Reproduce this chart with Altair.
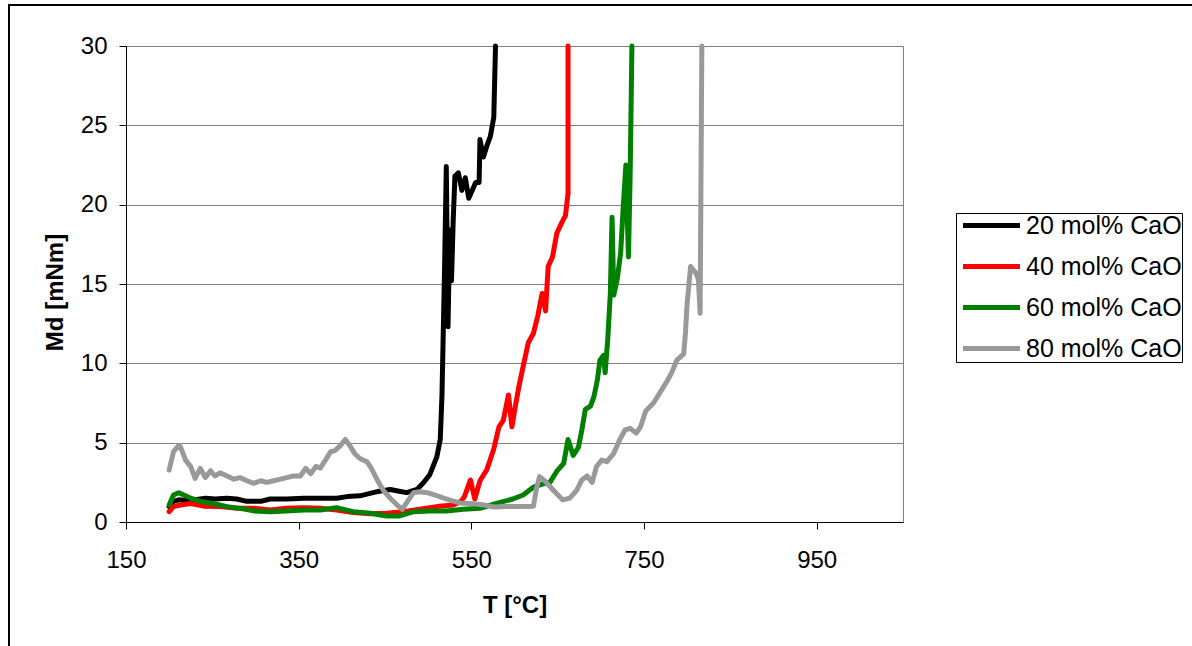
import altair as alt
import pandas as pd

series_names = ["20 mol% CaO", "40 mol% CaO", "60 mol% CaO", "80 mol% CaO"]
series_colors = ["#000000", "#ff0000", "#008000", "#999999"]

t20 = [200, 205, 211, 219, 230, 242, 253, 267, 278, 290, 306, 317, 336, 356, 375, 394, 406, 421,
       436, 445, 456, 465, 475, 487, 495, 502, 510, 514, 516, 519, 521, 523, 525, 527, 529, 531,
       535, 539, 543, 547, 551, 555, 559, 560, 564, 568, 572, 576, 578]
md20 = [0.97, 1.3, 1.4, 1.35, 1.4, 1.5, 1.45, 1.5, 1.45, 1.3, 1.3, 1.45, 1.45, 1.5, 1.5, 1.5, 1.6, 1.65,
        1.85, 1.95, 2.05, 1.95, 1.85, 2.05, 2.5, 3.0, 4.1, 5.2, 8.0, 16.0, 22.4, 12.3, 18.4, 15.2, 19.0, 21.8,
        22.0, 20.9, 21.7, 20.4, 20.9, 21.4, 21.4, 24.1, 23.0, 23.7, 24.3, 25.5, 30]

t40 = [200, 205, 213, 225, 240, 259, 279, 298, 317, 336, 356, 375, 394, 413, 433, 452, 471, 490,
       510, 529, 538, 542, 549, 554, 560, 568, 576, 582, 587, 593, 597, 601, 605, 610, 616, 622,
       627, 632, 636, 639, 644, 649, 655, 659, 662, 662]
md40 = [0.65, 0.97, 1.07, 1.17, 1.0, 0.97, 0.86, 0.86, 0.76, 0.86, 0.9, 0.86, 0.76, 0.6, 0.52, 0.55, 0.65, 0.8,
        0.97, 1.07, 1.3, 1.6, 2.65, 1.45, 2.6, 3.3, 4.6, 6.0, 6.4, 8.0, 6.0, 7.3, 8.5, 9.8, 11.3, 11.9,
        13.0, 14.4, 13.3, 16.1, 16.7, 18.2, 18.9, 19.3, 20.7, 30]

t60 = [200, 205, 211, 217, 225, 236, 252, 267, 282, 298, 317, 336, 356, 375, 394, 413, 433, 452,
       467, 483, 502, 521, 541, 560, 579, 598, 610, 622, 633, 641, 649, 657, 662, 668, 674, 678,
       682, 688, 692, 696, 699, 703, 705, 708, 711, 713, 715, 719, 723, 726, 729, 732, 734, 736]
md60 = [1.07, 1.7, 1.85, 1.7, 1.5, 1.3, 1.15, 0.97, 0.86, 0.7, 0.65, 0.7, 0.76, 0.76, 0.9, 0.65, 0.55, 0.38,
        0.38, 0.65, 0.7, 0.7, 0.8, 0.86, 1.17, 1.45, 1.7, 2.2, 2.4, 2.5, 3.2, 3.7, 5.2, 4.2, 4.7, 5.8,
        7.1, 7.3, 7.9, 8.95, 10.2, 10.5, 9.4, 11.5, 14.4, 19.2, 14.3, 15.3, 17.0, 19.9, 22.5, 16.7, 22.0, 30]

t80 = [200, 205, 211, 213, 219, 225, 230, 236, 242, 248, 253, 259, 267, 275, 282, 290, 298, 306,
       313, 321, 329, 336, 344, 352, 358, 364, 370, 375, 381, 387, 392, 398, 404, 410, 415, 421,
       429, 434, 441, 448, 456, 464, 470, 475, 483, 490, 499, 508, 518, 527, 537, 552, 567, 576,
       590, 606, 622, 625, 629, 635, 645, 656, 664, 672, 678, 684, 690, 695, 701, 707, 715, 722,
       728, 734, 741, 746, 752, 761, 769, 777, 782, 788, 796, 798, 800, 804, 810, 813, 815, 817]
md80 = [3.28, 4.43, 4.81, 4.75, 3.9, 3.49, 2.75, 3.38, 2.8, 3.23, 2.9, 3.1, 2.9, 2.7, 2.8, 2.6, 2.44, 2.6,
        2.5, 2.6, 2.7, 2.8, 2.9, 2.9, 3.38, 3.05, 3.5, 3.4, 3.9, 4.43, 4.5, 4.8, 5.2, 4.75, 4.3, 4.0,
        3.8, 3.4, 2.65, 2.0, 1.5, 1.07, 0.8, 1.2, 1.85, 1.9, 1.85, 1.7, 1.5, 1.35, 1.2, 1.15, 1.05, 0.95,
        0.97, 0.97, 1.0, 2.0, 2.86, 2.6, 2.0, 1.39, 1.5, 2.0, 2.65, 2.9, 2.5, 3.5, 3.9, 3.8, 4.33, 5.2,
        5.8, 5.9, 5.6, 6.0, 7.0, 7.5, 8.2, 8.9, 9.4, 10.2, 10.6, 11.9, 13.8, 16.1, 15.7, 15.3, 13.15, 30]

x_ticks = [150, 350, 550, 750, 950]
y_ticks = [0, 5, 10, 15, 20, 25, 30]

rows = []
for name, ts, ms in zip(series_names, [t20, t40, t60, t80], [md20, md40, md60, md80]):
    for i, (t, m) in enumerate(zip(ts, ms)):
        rows.append({"series": name, "T": t, "Md": m, "i": i})
df = pd.DataFrame(rows)

font = "Liberation Sans"

lines = alt.Chart(df).mark_line(strokeWidth=5, strokeCap="round", strokeJoin="round").encode(
    x=alt.X("T:Q",
            scale=alt.Scale(domain=[150, 1050], nice=False, zero=False),
            axis=alt.Axis(values=x_ticks, title="T [°C]", grid=False, labelPadding=19,
                          labelFlush=False, titleY=83, titleBaseline="middle")),
    y=alt.Y("Md:Q",
            scale=alt.Scale(domain=[0, 30], nice=False),
            axis=alt.Axis(values=y_ticks, title="Md [mNm]", grid=True, labelPadding=12,
                          labelFlush=False,
                          titleX=-71, titleY=246, titleAngle=270, titleAlign="center",
                          titleBaseline="middle")),
    color=alt.Color("series:N",
                    scale=alt.Scale(domain=series_names, range=series_colors),
                    legend=alt.Legend(title=None)),
    order=alt.Order("i:Q"),
)

frame = alt.Chart(pd.DataFrame({"f": [0]})).mark_rect(
    fillOpacity=0, stroke="black", strokeWidth=2
).encode(
    x=alt.value(-117), x2=alt.value(1100), y=alt.value(-41), y2=alt.value(700)
)

chart = alt.layer(frame, lines).properties(
    width=777, height=476,
    autosize=alt.AutoSizeParams(type="none"),
    padding={"left": 126, "top": 46, "right": 289, "bottom": 124},
    background="white",
).configure_view(
    stroke="#808080", strokeWidth=1
).configure_axis(
    labelFont=font, titleFont=font, labelFontSize=24, titleFontSize=24,
    labelColor="black", titleColor="black", titleFontWeight="bold",
    domainColor="black", domainWidth=1, tickColor="black", tickSize=7, tickWidth=1,
    gridColor="#808080", gridWidth=1,
).configure_legend(
    orient="none", legendX=830, legendY=167,
    labelFont=font, labelFontSize=25, labelColor="black", labelLimit=0,
    symbolType="M-3,0H3", symbolSize=361, symbolStrokeWidth=5,
    symbolOffset=23, labelOffset=22, rowPadding=15, padding=0,
    strokeColor="black", fillColor="white",
)

chart.save("out.html", embed_options={"renderer": "svg", "actions": False})
